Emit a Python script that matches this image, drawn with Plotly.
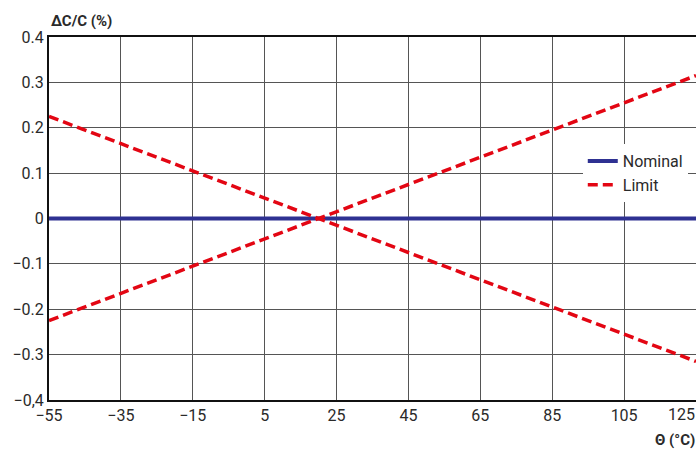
import plotly.graph_objects as go

# data
temps = [-55, 125]
nominal = [0, 0]
limit_up = [0.225, -0.315]
limit_down = [-0.225, 0.315]

x_ticks = [-55, -35, -15, 5, 25, 45, 65, 85, 105, 125]
x_labels = ['\u221255', '\u221235', '\u221215', '5', '25', '45', '65', '85', '105', '125']
y_ticks = [0.4, 0.3, 0.2, 0.1, 0, -0.1, -0.2, -0.3, -0.4]
y_labels = ['0.4', '0.3', '0.2', '0.1', '0', '\u22120.1', '\u22120.2', '\u22120.3', '\u22120,4']

FONT = 'Roboto'
TXT = '#2a2a2a'
BLUE = '#2e3192'
RED = '#e30613'

fig = go.Figure()
fig.add_trace(go.Scatter(x=temps, y=nominal, mode='lines', name='Nominal',
                         line=dict(color=BLUE, width=4)))
fig.add_trace(go.Scatter(x=temps, y=limit_up, mode='lines', name='Limit',
                         line=dict(color=RED, width=3.5, dash='10px,5px')))
fig.add_trace(go.Scatter(x=temps, y=limit_down, mode='lines', name='Limit',
                         showlegend=False,
                         line=dict(color=RED, width=3.5, dash='10px,5px')))

# last x label would be clipped at the right edge, draw it as annotation
shown_labels = x_labels[:-1] + ['']
fig.add_annotation(x=x_ticks[-1], y=0, xref='x', yref='paper', text=x_labels[-1],
                   showarrow=False, xanchor='right', yanchor='top', yshift=-3, xshift=1,
                   font=dict(family=FONT, size=16, color=TXT))

fig.add_annotation(x=0, y=1, xref='paper', yref='paper', text='<b>\u2206C/C (%)</b>',
                   showarrow=False, xanchor='left', yanchor='bottom', yshift=5,
                   font=dict(family=FONT, size=15, color=TXT))
fig.add_annotation(x=1, y=0, xref='paper', yref='paper', text='<b>\u0398 (\u00b0C)</b>',
                   showarrow=False, xanchor='right', yanchor='top', yshift=-29, xshift=1,
                   font=dict(family=FONT, size=15, color=TXT))

fig.update_xaxes(range=[-55, 125], tickvals=x_ticks, ticktext=shown_labels,
                 showgrid=True, gridcolor='#555', gridwidth=1,
                 showline=True, linecolor='#111', linewidth=2, mirror=True,
                 ticks='', zeroline=False, tickfont=dict(size=16, color=TXT))
fig.update_yaxes(range=[-0.4, 0.4], tickvals=y_ticks, ticktext=y_labels,
                 showgrid=True, gridcolor='#555', gridwidth=1,
                 showline=True, linecolor='#111', linewidth=2,
                 ticks='', zeroline=False, tickfont=dict(size=16, color=TXT))

fig.update_layout(width=696, height=457,
                  margin=dict(l=49, r=0, t=37, b=57),
                  plot_bgcolor='white', paper_bgcolor='white',
                  font=dict(family=FONT, size=16, color=TXT),
                  showlegend=True,
                  legend=dict(x=0.825, y=0.625, xanchor='left', yanchor='middle',
                              bgcolor='white', borderwidth=0, itemwidth=30,
                              font=dict(family=FONT, size=16, color=TXT),
                              tracegroupgap=0))

fig.write_html("out.html", config={'displayModeBar': False},
               post_script="document.body.style.margin='0';")
